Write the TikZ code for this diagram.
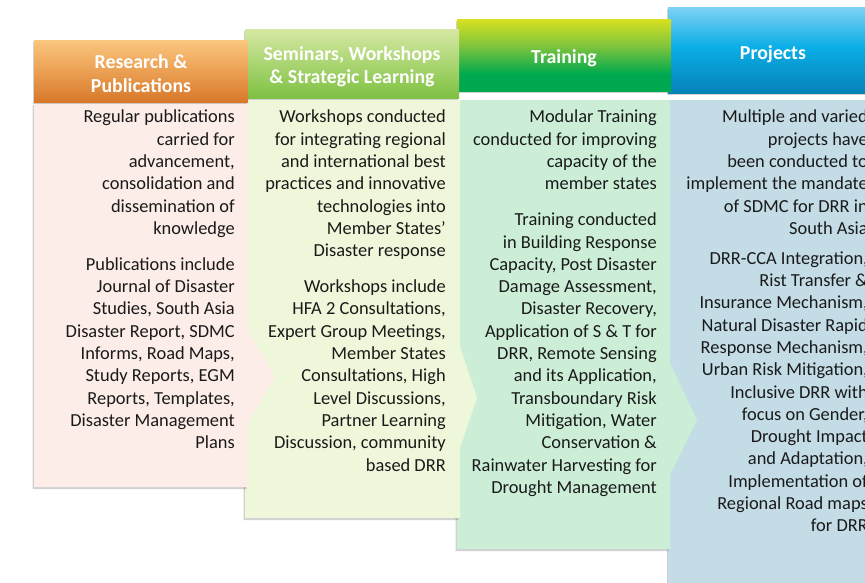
\documentclass[tikz,border=0pt]{standalone}
\usepackage{fontspec}
\setmainfont{Carlito}
\usetikzlibrary{shadows}
\definecolor{orT}{HTML}{FAC67E}
\definecolor{orM}{HTML}{EBA053}
\definecolor{orB}{HTML}{D8782B}
\definecolor{lgT}{HTML}{D6E8A3}
\definecolor{lgM}{HTML}{AAD572}
\definecolor{lgB}{HTML}{7EC143}
\definecolor{grT}{HTML}{D9E021}
\definecolor{grM}{HTML}{7DC43C}
\definecolor{grB}{HTML}{00A94F}
\definecolor{blT}{HTML}{80D2F5}
\definecolor{blM}{HTML}{0BAEE6}
\definecolor{blB}{HTML}{0582B8}
\definecolor{bodyA}{HTML}{FCEDE8}
\definecolor{bodyB}{HTML}{EFF7DA}
\definecolor{bodyC}{HTML}{CCEED7}
\definecolor{bodyD}{HTML}{C3DCE6}
\definecolor{txt}{HTML}{1A1A1A}
\pgfdeclareverticalshading{hdrA}{100bp}{color(0bp)=(orB); color(25bp)=(orB); color(50bp)=(orM); color(75bp)=(orT); color(100bp)=(orT)}
\pgfdeclareverticalshading{hdrB}{100bp}{color(0bp)=(lgB); color(25bp)=(lgB); color(50bp)=(lgM); color(75bp)=(lgT); color(100bp)=(lgT)}
\pgfdeclareverticalshading{hdrC}{100bp}{color(0bp)=(grB); color(25bp)=(grB); color(37bp)=(grB); color(56bp)=(grM); color(75bp)=(grT); color(100bp)=(grT)}
\pgfdeclareverticalshading{hdrD}{100bp}{color(0bp)=(blB); color(25bp)=(blB); color(52bp)=(blM); color(75bp)=(blT); color(100bp)=(blT)}
\tikzset{
  softshadow/.style={drop shadow={shadow xshift=-1.5pt, shadow yshift=-2pt, opacity=0.3, fill=black!60}},
  hdrbox/.style={softshadow},
  hdrtext/.style={inner sep=0pt, text=white, align=center,
    font=\fontsize{19.8}{23.5}\selectfont\bfseries},
  bodyshape/.style={softshadow},
  bodytext/.style={anchor=north east, inner sep=0pt, align=right, text=txt,
    font=\fontsize{18.4}{22.3}\selectfont}
}
\begin{document}
\begin{tikzpicture}[x=1pt,y=-1pt]
\useasboundingbox (0,0) rectangle (865,582);
\clip (0,0) rectangle (865,582);
% column 4
\fill[bodyD, bodyshape] (668,100) -- (885,100) -- (885,600) -- (668,600) -- cycle;
\path[hdrbox, shading=hdrD] (668,7) rectangle (882,93);
% column 3
\fill[bodyC, bodyshape] (457,100) -- (670,100) -- (670,363) -- (697,420) -- (670,475) -- (670,549) -- (457,549) -- cycle;
\path[hdrbox, shading=hdrC] (457,19) rectangle (671,91);
% column 2
\fill[bodyB, bodyshape] (245,100) -- (460,100) -- (460,347) -- (477,398) -- (460,448) -- (460,518) -- (245,518) -- cycle;
\path[hdrbox, shading=hdrB] (245,29) rectangle (459,98);
% column 1
\fill[bodyA, bodyshape] (34,103) -- (248,103) -- (248,331) -- (275,377) -- (248,423) -- (248,487) -- (34,487) -- cycle;
\path[hdrbox, shading=hdrA] (34,40) rectangle (248,102);
% header texts
\node[hdrtext] (h1) at (141,73.5) {Research \&\\Publications};
\node[hdrtext] (h2) at (352,66.5) {Seminars, Workshops\\\& Strategic Learning};
\node[hdrtext] (h3) at (564,58) {Training};
\node[hdrtext] (h4) at (773,54) {Projects};
% texts
\node[bodytext] (t1) at (235,107) {\strut Regular publications\\carried for\\advancement,\\consolidation and\\dissemination of\\knowledge\\[13.7pt]
Publications include\\Journal of Disaster\\Studies, South Asia\\Disaster Report, SDMC\\Informs, Road Maps,\\Study Reports, EGM\\Reports, Templates,\\Disaster Management\\Plans};
\node[bodytext] (t2) at (446,107) {\strut Workshops conducted\\for integrating regional\\and international best\\practices and innovative\\technologies into\\Member States’\\Disaster response\\[13.7pt]
Workshops include\\HFA 2 Consultations,\\Expert Group Meetings,\\Member States\\Consultations, High\\Level Discussions,\\Partner Learning\\Discussion, community\\based DRR};
\node[bodytext] (t3) at (657,107) {\strut Modular Training\\conducted for improving\\capacity of the\\member states\\[13.7pt]
Training conducted\\in Building Response\\Capacity, Post Disaster\\Damage Assessment,\\Disaster Recovery,\\Application of S \& T for\\DRR, Remote Sensing\\and its Application,\\Transboundary Risk\\Mitigation, Water\\Conservation \&\\Rainwater Harvesting for\\Drought Management};
\node[bodytext] (t4) at (868,107) {\strut Multiple and varied\\projects have\\been conducted to\\implement the mandate\\of SDMC for DRR in\\South Asia\\[7.6pt]
DRR-CCA Integration,\\Rist Transfer \&\\Insurance Mechanism,\\Natural Disaster Rapid\\Response Mechanism,\\Urban Risk Mitigation,\\Inclusive DRR with\\focus on Gender,\\Drought Impact\\and Adaptation,\\Implementation of\\Regional Road maps\\for DRR};
\end{tikzpicture}
\end{document}
